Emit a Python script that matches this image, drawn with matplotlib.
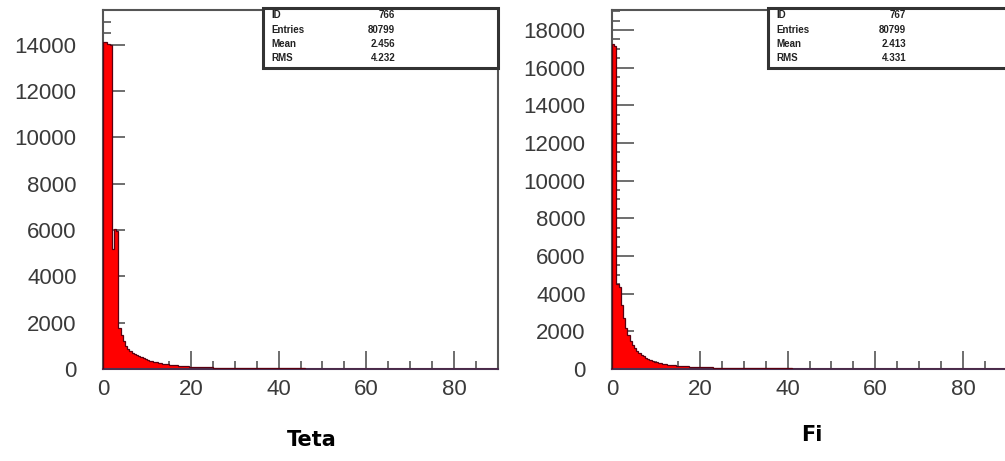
import numpy as np
import matplotlib
matplotlib.use("Agg")
import matplotlib.pyplot as plt
from matplotlib.ticker import MultipleLocator
from matplotlib.patches import Rectangle

plt.rcParams['font.family'] = ['Liberation Sans', 'DejaVu Sans']

# bin edges: 0.5 wide up to 20, then 1 wide up to 90
edges = np.concatenate([np.arange(0, 20, 0.5), np.arange(20, 91, 1)])

teta_counts = [
    14100, 14100, 14050, 14000, 5200, 6050, 5950, 1750, 1450, 1200,
    1000, 880, 780, 700, 640, 590, 540, 500, 460, 420,
    390, 360, 335, 310, 290, 270, 250, 235, 220, 205,
    190, 178, 166, 155, 145, 136, 128, 120, 113, 106,
    # 20 .. 90
    95, 88, 80, 74, 68, 63, 58, 54, 50, 46,
    43, 40, 38, 36, 34, 32, 30, 29, 28, 27,
    26, 25, 24, 23, 22, 22, 21, 20, 20, 19,
    19, 18, 18, 17, 17, 16, 16, 15, 15, 15,
    14, 14, 14, 13, 13, 13, 12, 12, 12, 12,
    11, 11, 11, 11, 10, 10, 10, 10, 10, 10,
    9, 9, 9, 9, 9, 9, 9, 8, 8, 8,
]

fi_counts = [
    17250, 17150, 4500, 4350, 3400, 2700, 2200, 1800, 1500, 1280,
    1100, 980, 860, 760, 670, 600, 535, 480, 430, 390,
    355, 325, 298, 274, 253, 235, 219, 205, 192, 180,
    169, 159, 150, 142, 134, 127, 120, 114, 108, 103,
    # 20 .. 90
    95, 88, 81, 75, 69, 64, 59, 55, 51, 47,
    44, 41, 39, 37, 35, 33, 31, 30, 29, 28,
    27, 26, 25, 24, 23, 22, 21, 21, 20, 20,
    19, 19, 18, 18, 17, 17, 16, 16, 15, 15,
    15, 14, 14, 14, 13, 13, 13, 12, 12, 12,
    12, 11, 11, 11, 11, 10, 10, 10, 10, 10,
    10, 9, 9, 9, 9, 9, 9, 8, 8, 8,
]

teta_stats = [("ID", "766"), ("Entries", "80799"), ("Mean", "2.456"), ("RMS", "4.232")]
fi_stats = [("ID", "767"), ("Entries", "80799"), ("Mean", "2.413"), ("RMS", "4.331")]

W, H = 1005, 461
fig = plt.figure(figsize=(W / 100, H / 100), dpi=100)


def draw_hist(rect, counts, ymax, stats, box_x0, val_x):
    ax = fig.add_axes(rect)
    ax.stairs(counts, edges, fill=True, color='#ff0000', zorder=2)
    ax.stairs(counts, edges, color='#5a0010', lw=0.9, zorder=3)
    ax.set_xlim(0, 90)
    ax.set_ylim(0, ymax)
    ax.xaxis.set_major_locator(MultipleLocator(20))
    ax.xaxis.set_minor_locator(MultipleLocator(5))
    ax.yaxis.set_major_locator(MultipleLocator(2000))
    ax.yaxis.set_minor_locator(MultipleLocator(500))
    ax.tick_params(which='both', direction='in', colors='#555555',
                   labelcolor='#3a3a3a', labelsize=16, width=1.2)
    ax.tick_params(which='major', length=13, pad=7)
    ax.tick_params(which='minor', length=6)
    ax.tick_params(axis='y', which='major', length=16, pad=19)
    for s in ax.spines.values():
        s.set_color('#555555')
        s.set_linewidth(1.5)
    ax.spines['bottom'].set_color('#4a3050')

    # statistics box
    box = Rectangle((box_x0, 0.838), 1.0 - box_x0, 0.168, transform=ax.transAxes,
                    fill=True, facecolor='white', edgecolor='#333333', lw=2.2,
                    clip_on=False, zorder=5)
    ax.add_patch(box)
    for i, (name, val) in enumerate(stats):
        y = 0.985 - i * 0.040
        ax.text(box_x0 + 0.02, y, name, transform=ax.transAxes, fontsize=7,
                fontweight='bold', color='#222222', va='center', ha='left', zorder=6)
        ax.text(val_x, y, val, transform=ax.transAxes, fontsize=7,
                fontweight='bold', color='#222222', va='center', ha='right', zorder=6)
    return ax


draw_hist([103 / W, 1 - 369 / H, 395 / W, 359 / H], teta_counts, 15500,
          teta_stats, 0.405, 0.74)
draw_hist([612 / W, 1 - 369 / H, 395 / W, 359 / H], fi_counts, 19060,
          fi_stats, 0.395, 0.745)

fig.text(312 / W, 1 - 440 / H, "Teta", ha='center', va='center',
         fontsize=15, fontweight='bold', family='Liberation Sans Narrow')
fig.text(812 / W, 1 - 435 / H, "Fi", ha='center', va='center',
         fontsize=15, fontweight='bold', family='Liberation Sans Narrow')

fig.savefig("out.png", dpi=100)
